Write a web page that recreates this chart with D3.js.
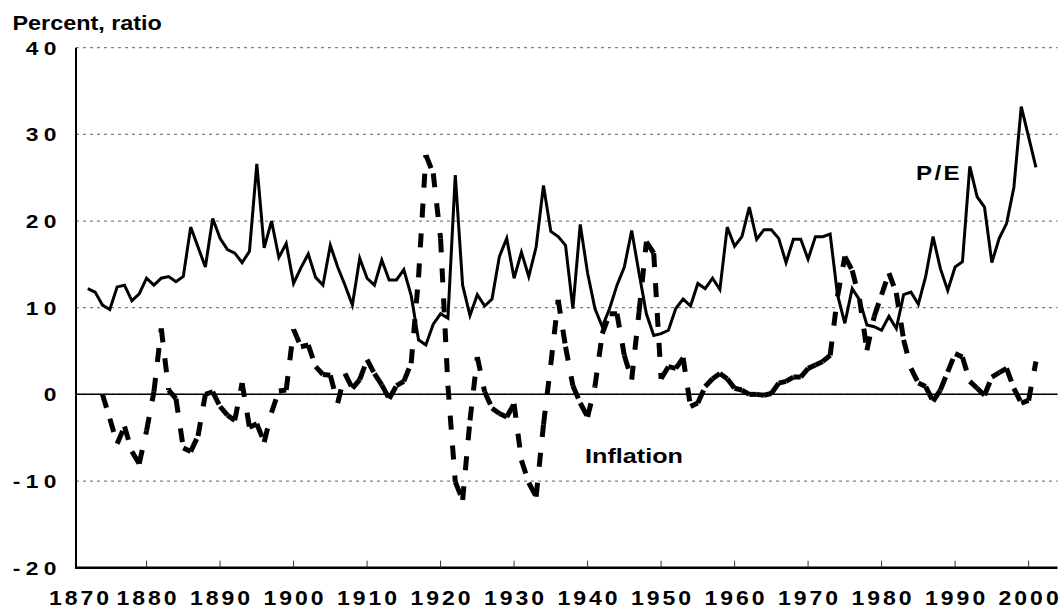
<!DOCTYPE html>
<html>
<head>
<meta charset="utf-8">
<script src="https://cdn.jsdelivr.net/npm/d3@7"></script>
<style>
  body { margin: 0; background: #fff; }
  text { font-family: Arial, "Liberation Sans", Helvetica, sans-serif; font-weight: bold; fill: #000; }
</style>
</head>
<body>
<svg id="chart" width="1063" height="609"></svg>
<script>
// ---- data ----
var peFirstYear = 1872;
var peValues = [
  12.2, 11.8, 10.3, 9.8, 12.4, 12.6, 10.8, 11.6,                 // 1872-1879
  13.4, 12.6, 13.4, 13.6, 13.0, 13.6, 19.3, 17.0, 14.7, 20.3,    // 1880s
  18.0, 16.7, 16.3, 15.2, 16.5, 26.6, 16.9, 20.0, 15.8, 17.4,    // 1890s
  12.8, 14.6, 16.2, 13.5, 12.6, 17.2, 14.7, 12.6, 10.3, 15.7,    // 1900s
  13.4, 12.6, 15.5, 13.2, 13.2, 14.4, 11.4, 6.3, 5.7, 8.1,       // 1910s
  9.3, 8.8, 25.3, 12.6, 9.1, 11.5, 10.2, 11.0, 15.9, 18.0,       // 1920s
  13.4, 16.4, 13.6, 17.0, 24.1, 18.8, 18.2, 17.2, 9.9, 19.6,     // 1930s
  14.0, 9.9, 7.8, 9.9, 12.6, 14.7, 18.9, 14.0, 9.3, 6.8,         // 1940s
  7.0, 7.4, 9.9, 11.0, 10.2, 12.8, 12.2, 13.4, 12.1, 19.3,       // 1950s
  17.1, 18.2, 21.6, 17.9, 19.0, 19.0, 18.0, 15.2, 17.9, 17.9,    // 1960s
  15.6, 18.2, 18.2, 18.5, 11.5, 8.2, 12.2, 10.9, 8.0, 7.8,       // 1970s
  7.4, 9.0, 7.6, 11.5, 11.8, 10.4, 13.6, 18.2, 14.5, 12.0,       // 1980s
  14.7, 15.3, 26.3, 22.8, 21.6, 15.2, 18.0, 19.7, 23.9, 33.2,    // 1990s
  29.7, 26.2                                                     // 2000-2001
];

var inflFirstYear = 1874;
var inflValues = [
  0.0, -2.8, -5.7, -3.7, -6.6, -8.0,                             // 1874-1879
  -4.2, 0.3, 7.6, 0.5, -0.5, -6.2, -6.6, -4.8, 0.0, 0.3,         // 1880s
  -1.4, -2.4, -3.0, 1.3, -3.8, -3.4, -5.5, -2.1, 0.4, 0.5,       // 1890s
  7.5, 5.5, 5.7, 3.2, 2.3, 2.2, -1.0, 2.4, 0.7, 1.7,             // 1900s
  4.0, 2.4, 1.1, -0.5, 1.0, 1.5, 3.6, 13.5, 27.6, 25.5,          // 1910s
  18.0, 1.0, -10.1, -12.2, -3.0, 4.3, 0.3, -1.6, -2.2, -2.6,     // 1920s
  -1.1, -7.6, -10.2, -11.8, -3.5, 3.5, 10.9, 5.5, 1.0, -1.0,     // 1930s
  -2.6, 0.9, 7.0, 9.3, 9.3, 4.5, 1.7, 9.5, 17.6, 16.3,           // 1940s
  1.8, 3.2, 3.0, 4.2, -1.4, -1.0, 0.9, 1.8, 2.4, 1.8,            // 1950s
  0.7, 0.5, 0.0, 0.0, -0.1, 0.1, 1.3, 1.5, 2.0, 2.0,             // 1960s
  3.0, 3.4, 3.8, 4.5, 11.3, 15.9, 14.3, 11.0, 5.1, 9.0,          // 1970s
  11.5, 14.0, 11.7, 6.3, 3.0, 1.3, 0.9, -0.8, 0.5, 2.6,          // 1980s
  4.7, 4.3, 1.5, 0.7, -0.1, 2.0, 2.5, 3.0, 0.7, -1.0,            // 1990s
  -0.7, 3.8                                                      // 2000-2001
];

var yTicks = [-20, -10, 0, 10, 20, 30, 40];
var xTickYears = [1870, 1880, 1890, 1900, 1910, 1920, 1930, 1940, 1950, 1960, 1970, 1980, 1990, 2000];

// ---- layout ----
var svg = d3.select('#chart');
var plotLeft = 76, plotRight = 1057.5, plotTop = 47.7, plotBottom = 567.7;

var x = d3.scaleLinear().domain([1870.4, 2004]).range([plotLeft, plotRight + 0.5]);
var y = d3.scaleLinear().domain([-20, 40]).range([plotBottom, plotTop]);

var pe = peValues.map(function(v, i) { return {year: peFirstYear + i, v: v}; });
var infl = inflValues.map(function(v, i) { return {year: inflFirstYear + i, v: v}; });

// the source lettering is a bit wider than Arial, so stretch it horizontally
function placeText(sel, px, py, sx) {
  sel.attr('transform', function(d) {
    return 'translate(' + px(d) + ',' + py(d) + ') scale(' + sx + ',1)';
  });
}

// gridlines
svg.append('g')
  .selectAll('line')
  .data(yTicks.filter(function(d) { return d > -20; }))
  .enter().append('line')
  .attr('x1', plotLeft).attr('x2', plotRight)
  .attr('y1', function(d) { return y(d); })
  .attr('y2', function(d) { return y(d); })
  .attr('stroke', '#808080')
  .attr('stroke-width', 1.2)
  .attr('stroke-dasharray', '3,4');

// zero line
svg.append('line')
  .attr('x1', plotLeft).attr('x2', plotRight)
  .attr('y1', y(0)).attr('y2', y(0))
  .attr('stroke', '#000').attr('stroke-width', 1.5);

// axis lines
svg.append('line')
  .attr('x1', plotLeft).attr('x2', plotLeft)
  .attr('y1', plotTop).attr('y2', plotBottom)
  .attr('stroke', '#000').attr('stroke-width', 2);
svg.append('line')
  .attr('x1', plotLeft - 1).attr('x2', plotRight)
  .attr('y1', plotBottom).attr('y2', plotBottom)
  .attr('stroke', '#000').attr('stroke-width', 2.5);

// x ticks (pointing up, inside)
svg.append('g')
  .selectAll('line')
  .data(xTickYears.filter(function(d) { return d > 1870; }))
  .enter().append('line')
  .attr('x1', function(d) { return x(d); })
  .attr('x2', function(d) { return x(d); })
  .attr('y1', plotBottom).attr('y2', plotBottom - 7)
  .attr('stroke', '#333').attr('stroke-width', 1);

// x labels
var xls = 2.6, xsx = 1.15;
svg.append('g')
  .selectAll('text')
  .data(xTickYears)
  .enter().append('text')
  .attr('text-anchor', 'middle')
  .attr('font-size', 20)
  .attr('letter-spacing', xls)
  .text(function(d) { return d; })
  .call(placeText,
        function(d) { return Math.max(x(d), 79) + xls * xsx / 2; },
        function() { return 604.5; }, xsx);

// y labels
var yls = 4.5, ysx = 1.2;
svg.append('g')
  .selectAll('text')
  .data(yTicks)
  .enter().append('text')
  .attr('text-anchor', 'end')
  .attr('font-size', 19)
  .attr('letter-spacing', yls)
  .text(function(d) { return d; })
  .call(placeText,
        function() { return 56.5 + yls * ysx; },
        function(d) { return y(d) + 7; }, ysx);

// title
svg.append('text')
  .datum('Percent, ratio')
  .attr('font-size', 19.5)
  .text(function(d) { return d; })
  .call(placeText, function() { return 12.5; }, function() { return 30; }, 1.2);

// P/E line
var line = d3.line()
  .x(function(d) { return x(d.year); })
  .y(function(d) { return y(d.v); });

svg.append('path')
  .datum(pe)
  .attr('d', line)
  .attr('fill', 'none')
  .attr('stroke', '#000')
  .attr('stroke-width', 3)
  .attr('stroke-linejoin', 'miter');

// inflation: dash pattern restarts on every segment
svg.append('g')
  .selectAll('line')
  .data(d3.pairs(infl))
  .enter().append('line')
  .attr('x1', function(d) { return x(d[0].year); })
  .attr('y1', function(d) { return y(d[0].v); })
  .attr('x2', function(d) { return x(d[1].year); })
  .attr('y2', function(d) { return y(d[1].v); })
  .attr('stroke', '#000')
  .attr('stroke-width', 5)
  .attr('stroke-linecap', 'butt')
  .attr('stroke-dasharray', '14,16');

// series labels
svg.append('text')
  .datum('P/E')
  .attr('font-size', 21)
  .attr('letter-spacing', 2)
  .text(function(d) { return d; })
  .call(placeText, function() { return 916; }, function() { return 180; }, 1.15);

svg.append('text')
  .datum('Inflation')
  .attr('font-size', 21)
  .text(function(d) { return d; })
  .call(placeText, function() { return 585; }, function() { return 463; }, 1.2);
</script>
</body>
</html>
